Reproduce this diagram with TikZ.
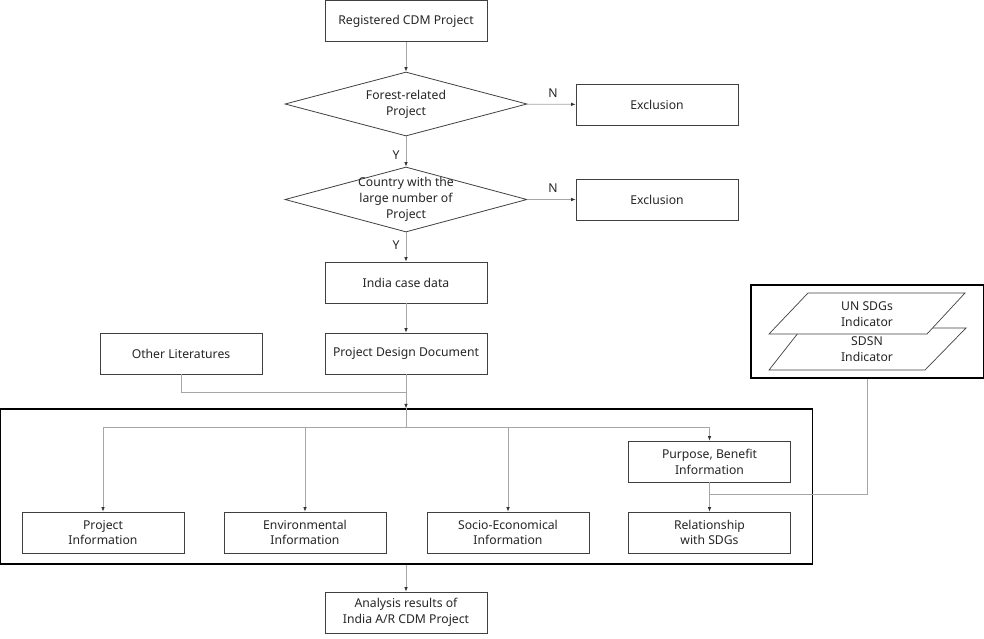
\documentclass[tikz,border=0pt]{standalone}
\usepackage{fontspec}
\setmainfont{Noto Sans}
\usetikzlibrary{shapes.geometric,arrows.meta}
\definecolor{boxc}{HTML}{404040}
\definecolor{connc}{HTML}{A6A6A6}
\tikzset{
  every node/.style={font=\fontsize{12.2}{15.8}\selectfont, text=black!85},
  box/.style={draw=boxc, line width=0.8pt, fill=white, minimum width=162pt, minimum height=41pt, inner sep=0pt, align=center},
  dia/.style={draw=boxc, line width=0.8pt, fill=white, shape=diamond, minimum width=242pt, minimum height=64pt, inner sep=0pt},
  frame/.style={draw=black, line width=1.2pt, inner sep=0pt},
  para/.style={draw=boxc, line width=0.7pt, fill=white},
  conn/.style={draw=connc, line width=0.7pt},
  arr/.style={conn, -{Latex[length=4.5pt,width=3.5pt,color=black!80,fill=black!80]}},
  lbl/.style={inner sep=1pt}
}
\begin{document}
\begin{tikzpicture}[x=1pt,y=-1pt]
\useasboundingbox (0,0) rectangle (984,638);
% main chain
\node[box] (reg) at (406,21) {Registered CDM Project};
\node[dia, label={[align=center]center:Forest-related\\Project}] (d1) at (406,104) {};
\node[box] (ex1) at (657,104.5) {Exclusion};
\node[dia, minimum height=65pt, label={[align=center]center:Country with the\\large number of\\Project}] (d2) at (406,199.5) {};
\node[box] (ex2) at (657,199.5) {Exclusion};
\node[box] (ind) at (406,282.5) {India case data};
\node[box] (pdd) at (406,353.5) {Project Design Document};
\node[box] (ol) at (181,353.5) {Other Literatures};
% big frame
\node[frame, minimum width=812pt, minimum height=155pt] (big) at (406.5,486.5) {};
\node[box] (pi) at (103,532.5) {Project\\Information};
\node[box] (ei) at (305,532.5) {Environmental\\Information};
\node[box] (si) at (508,532.5) {Socio-Economical\\Information};
\node[box] (pb) at (709.5,461.5) {Purpose, Benefit\\Information};
\node[box] (rs) at (709.5,532.5) {Relationship\\with SDGs};
\node[box] (ar) at (406,612.5) {Analysis results of\\India A/R CDM Project};
% SDG frame
\node[frame, minimum width=233pt, minimum height=93pt] (sdg) at (867.5,331.5) {};
\draw[para] (802,328) -- (966,328) -- (925,370) -- (769,370) -- cycle;
\draw[para] (808,293) -- (965,293) -- (927,334) -- (769,334) -- cycle;
\node[align=center] (un) at (867,314) {UN SDGs\\Indicator};
\node[align=center] (sdsn) at (867,349) {SDSN\\Indicator};
% connectors
\draw[arr] (reg) -- (d1);
\draw[arr] (d1) -- (ex1);
\draw[arr] (d1) -- (d2);
\draw[arr] (d2) -- (ex2);
\draw[arr] (d2) -- (ind);
\draw[arr] (ind) -- (pdd);
\coordinate (m1) at (406,392);
\draw[conn] (ol.south) |- (m1);
\draw[arr] (pdd.south) -- (pdd.south |- big.north);
\coordinate (j) at (406,427);
\draw[conn] (pdd.south |- big.north) -- (j);
\draw[arr] (j) -| (pi.north);
\draw[arr] (j) -| (ei.north);
\draw[arr] (j) -| (si.north);
\draw[arr] (j) -| (pb.north);
\draw[arr] (pb) -- (rs);
\coordinate (sj) at (709.5,494);
\draw[conn] (sdg.south) |- (sj);
\draw[arr] (big.south -| ar.north) -- (ar.north);
% labels
\node[lbl] (n1) at (553,93) {N};
\node[lbl] (n2) at (553,188) {N};
\node[lbl] (y1) at (396,155) {Y};
\node[lbl] (y2) at (396,245) {Y};
\end{tikzpicture}
\end{document}
